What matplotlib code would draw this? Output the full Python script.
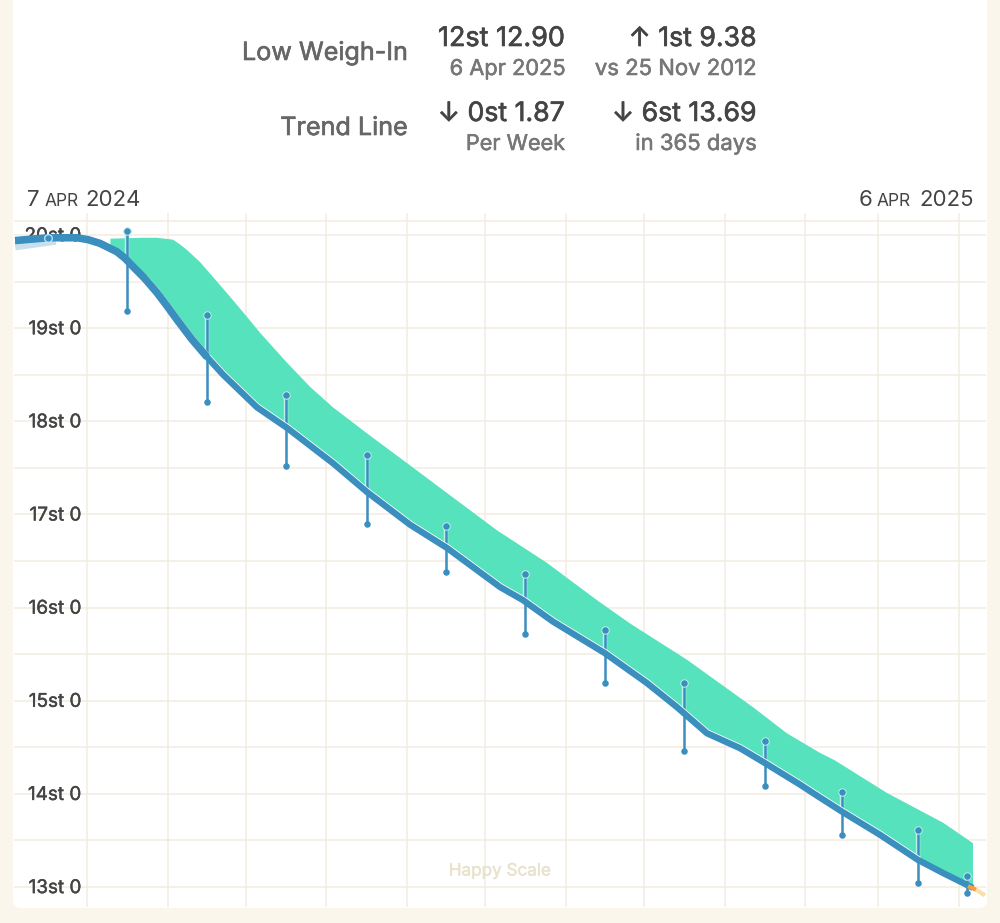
import matplotlib
matplotlib.use("Agg")
import matplotlib.pyplot as plt
import matplotlib.patheffects as pe
import numpy as np
from matplotlib.patches import FancyBboxPatch
from matplotlib.transforms import ScaledTranslation

plt.rcParams['font.family'] = ['Inter', 'DejaVu Sans']

# days since 7 Apr 2024, values in stone
trend_days = [-3.6, 9.0, 20.2, 24.4, 29.0, 35.5, 38.6, 41.7, 46.3, 50.9, 54.7, 58.6, 64.3, 70.1, 76.3, 89.3, 100.8, 118.5,
              131.6, 148.1, 162.3, 182.7, 191.5, 203.0, 223.0, 239.1, 250.7, 262.2, 274.9, 284.5, 297.9, 305.6, 314.0,
              328.7, 343.3, 352.9, 364.4]
trend_st = [19.94, 19.97, 19.97, 19.95, 19.91, 19.82, 19.75, 19.66, 19.53, 19.38, 19.24, 19.09, 18.88, 18.69, 18.50, 18.15, 17.93, 17.55,
            17.24, 16.89, 16.64, 16.22, 16.08, 15.85, 15.51, 15.19, 14.93, 14.65, 14.49, 14.33, 14.10, 13.96, 13.81,
            13.56, 13.29, 13.15, 12.99]

band_days = [33.0, 45.1, 50.9, 57.0, 59.7, 62.4, 67.4, 72.4, 80.1, 85.5, 90.5, 100.8, 109.7, 118.5, 131.6, 147.0, 162.3, 181.5,
             200.7, 219.9, 232.6, 254.5, 279.9, 292.9, 305.6, 311.3, 331.3, 352.9, 364.4]
band_st = [19.96, 19.97, 19.97, 19.95, 19.90, 19.84, 19.71, 19.55, 19.30, 19.12, 18.95, 18.63, 18.37, 18.15, 17.87, 17.55, 17.23, 16.83,
           16.48, 16.08, 15.83, 15.44, 14.93, 14.65, 14.44, 14.36, 14.01, 13.69, 13.47]

weigh_days = [39.4, 70.1, 100.4, 131.6, 161.9, 192.3, 223.0, 253.4, 284.5, 314.0, 343.3, 362.1]
weigh_high = [20.04, 19.14, 18.28, 17.64, 16.88, 16.36, 15.76, 15.19, 14.57, 14.02, 13.61, 13.12]
weigh_low = [19.18, 18.21, 17.52, 16.90, 16.38, 15.72, 15.19, 14.46, 14.08, 13.56, 13.04, 12.94]

month_days = [24, 55, 85, 116, 147, 177, 208, 238, 269, 300, 328, 359]
stone_ticks = [13, 14, 15, 16, 17, 18, 19, 20]
stone_labels = ["13st 0", "14st 0", "15st 0", "16st 0", "17st 0", "18st 0", "19st 0", "20st 0"]
half_ticks = [13.5, 14.5, 15.5, 16.5, 17.5, 18.5, 19.5, 20.15]

forecast_days = [364.4, 369.0]
forecast_st = [12.99, 12.91]
start_days = [-3.6, 12.0]
start_st = [19.88, 19.94]

BG = "#FBF6EC"
GRID = "#F2EDE3"
BLUE = "#3A8FBF"
TEAL = "#56E2BC"
W, H = 1000, 923


def put(x, y, s, size, color, ha="right", stroke=0.0):
    t = fig.text(x / W, 1 - y / H, s, fontsize=size, color=color, ha=ha, va="baseline")
    if stroke:
        # Inter only comes in one weight here, so thicken it a little
        t.set_path_effects([pe.withStroke(linewidth=stroke, foreground=color)])


fig = plt.figure(figsize=(W / 100, H / 100), dpi=100, facecolor=BG)
panel = FancyBboxPatch((13 / W, 1 - 908 / H), 974 / W, 1.2, boxstyle="round,pad=0,rounding_size=0.008",
                       transform=fig.transFigure, facecolor="white", edgecolor="none", zorder=-1)
fig.add_artist(panel)

# axes placed so that days and stone land where the app draws them
ax = fig.add_axes([14 / W, 1 - 907 / H, 972 / W, 694 / H])
ax.patch.set_alpha(0)
ax.set_xlim(-4.03, 369.4)
ax.set_ylim(12.785, 20.236)
for s in ax.spines.values():
    s.set_visible(False)
ax.set_xticks(month_days)
ax.set_yticks(stone_ticks + half_ticks)
ax.tick_params(length=0, labelbottom=False, labelleft=False)
ax.grid(True, color=GRID, linewidth=1.1, zorder=0)
ax.set_axisbelow(True)

label_x = ax.get_yaxis_transform()
for st, lab in zip(stone_ticks, stone_labels):
    ax.text(67 / 972, st - 0.012, lab, transform=label_x, fontsize=13.6, color="#444444", ha="right", va="center",
            zorder=1, path_effects=[pe.withStroke(linewidth=0.3, foreground="#444444")])

ax.text(0.5, 12.785 + 36 / 93.14, "Happy Scale", transform=label_x, fontsize=12.3, color="#E9E2CC",
        ha="center", va="center", zorder=1, path_effects=[pe.withStroke(linewidth=0.3, foreground="#E9E2CC")])

lower_days = [33.0] + [d for d in trend_days if d >= 35]
lower_st = [19.88] + [v for d, v in zip(trend_days, trend_st) if d >= 35]
ax.fill(band_days + lower_days[::-1], band_st + lower_st[::-1], color=TEAL, lw=0, zorder=2)

# pale part at the start and the forecast stub at the end
ax.plot(start_days, start_st, color="#C9DFEE", lw=6, solid_capstyle="butt", zorder=3)
ax.plot(forecast_days, forecast_st, color="#FBDDA8", lw=3, solid_capstyle="butt", zorder=3)

# stems, pale edge only where they cross the band
ax.vlines(weigh_days, np.interp(weigh_days, trend_days, trend_st), weigh_high, color="#BDEFE8", lw=3.2, zorder=3)
ax.vlines(weigh_days, weigh_low, weigh_high, color=BLUE, lw=1.8, zorder=4)

up = ScaledTranslation(1.8 / 100, 2.9 / 100, fig.dpi_scale_trans)
white_days = [d for d in trend_days if 45 <= d <= 352]
white_st = [v for d, v in zip(trend_days, trend_st) if 45 <= d <= 352]
ax.plot(white_days, white_st, color="white", lw=0.9, transform=ax.transData + up, zorder=5, solid_joinstyle="round")
ax.plot(trend_days, trend_st, color=BLUE, lw=4.6, solid_joinstyle="round", solid_capstyle="butt", zorder=6)
thick = [i for i, d in enumerate(trend_days) if d <= 70.1]
ax.plot([trend_days[i] for i in thick], [trend_st[i] for i in thick], color=BLUE, lw=5.4,
        solid_joinstyle="round", solid_capstyle="butt", zorder=6)

ax.plot(weigh_days, weigh_low, "o", color=BLUE, ms=4.7, mew=0, zorder=7)
ax.plot(weigh_days, weigh_high, "o", mfc=BLUE, mec="#BDEFE8", ms=5.4, mew=0.7, zorder=7)
ax.plot([9.0], [19.97], "o", mfc=BLUE, mec="#CDE6F2", ms=5.5, mew=0.9, zorder=7)
ax.plot([362.5, 365.5], [13.01, 12.97], color="#F0A040", lw=3, solid_capstyle="butt", zorder=7)

# header block
put(408, 60, "Low Weigh-In", 18.1, "#666666", stroke=0.45)
put(408, 135, "Trend Line", 18.1, "#666666", stroke=0.45)
put(565, 46, "12st 12.90", 19.4, "#444444", stroke=0.45)
put(565, 75, "6 Apr 2025", 15.7, "#777777", stroke=0.4)
put(757, 46, "↑ 1st 9.38", 19.2, "#444444", stroke=0.45)
put(757, 75, "vs 25 Nov 2012", 15.9, "#777777", stroke=0.4)
put(565, 121, "↓ 0st 1.87", 19.2, "#444444", stroke=0.45)
put(565, 150, "Per Week", 15.6, "#777777", stroke=0.4)
put(757, 121, "↓ 6st 13.69", 19.2, "#444444", stroke=0.45)
put(757, 150, "in 365 days", 15.9, "#777777", stroke=0.4)

# date range, small caps faked with a smaller size
put(27, 206, "7", 16, "#444444", ha="left")
put(45, 206, "APR", 12.5, "#444444", ha="left")
put(85, 206, "2024", 16, "#444444", ha="left")
put(859, 206, "6", 16, "#444444", ha="left")
put(877, 206, "APR", 12.5, "#444444", ha="left")
put(919, 206, "2025", 16, "#444444", ha="left")

fig.savefig("out.png", dpi=100, facecolor=BG)
